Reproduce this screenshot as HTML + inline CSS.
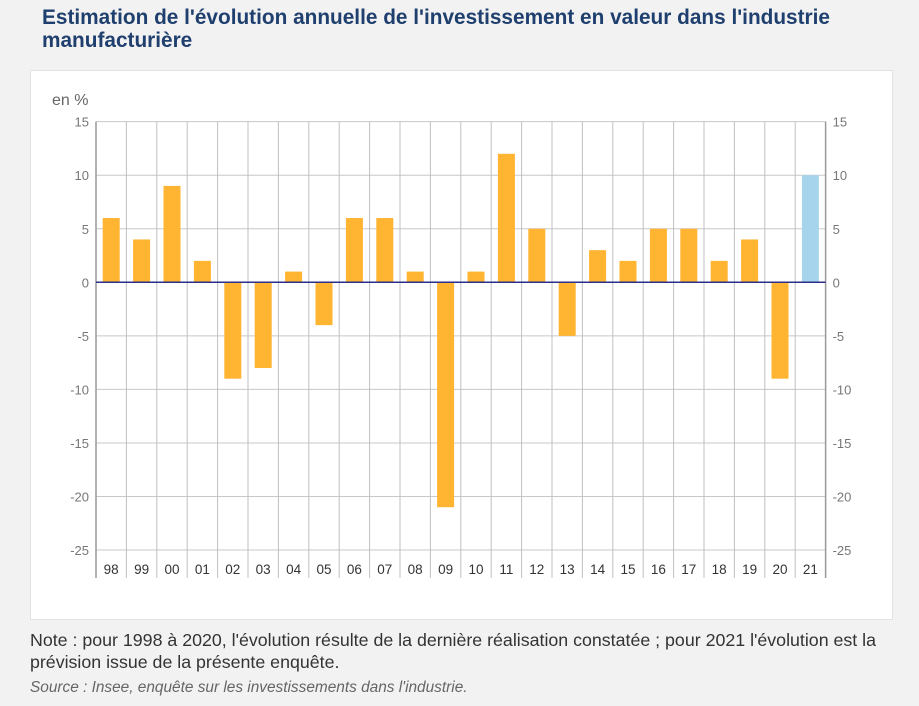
<!DOCTYPE html><html><head><meta charset="utf-8"><style>
body{margin:0;width:919px;height:706px;background:#f2f2f2;font-family:"Liberation Sans",sans-serif;overflow:hidden;position:relative}
.t{position:absolute;left:42px;top:6px;font-size:20.8px;font-weight:bold;color:#1f3f6e;line-height:23px}
.card{position:absolute;left:30px;top:70px;width:861px;height:548px;background:#fff;border:1px solid #e2e2e2}
.n{position:absolute;left:30px;top:629px;font-size:17.8px;color:#333;line-height:22px;white-space:nowrap}
.s{position:absolute;left:30px;top:679px;font-size:15.4px;font-style:italic;color:#666}
</style></head><body>
<div class="t">Estimation de l'évolution annuelle de l'investissement en valeur dans l'industrie<br>manufacturière</div>
<div class="card"></div>
<svg width="919" height="706" style="position:absolute;left:0;top:0" font-family="Liberation Sans,sans-serif">
<text x="52" y="105" font-size="16" fill="#666">en %</text>
<g id="g"></g>
</svg>
<div class="n">Note : pour 1998 à 2020, l'évolution résulte de la dernière réalisation constatée ; pour 2021 l'évolution est la<br>prévision issue de la présente enquête.</div>
<div class="s">Source : Insee, enquête sur les investissements dans l'industrie.</div>
<script>
const g=document.getElementById('g');let h='';
const L=96,R=825.6,W=(R-L)/24,y0=282.3,u=10.71;
const Y=v=>y0-v*u;
for(let v=15;v>=-25;v-=5){const y=Y(v);h+=`<line x1="${L}" x2="${R}" y1="${y}" y2="${y}" stroke="#c8c8c8"/>`;
h+=`<text x="${L-7}" y="${y+5}" font-size="13" fill="#777" text-anchor="end">${v}</text><text x="${R+7}" y="${y+5}" font-size="13" fill="#777">${v}</text>`;}
for(let i=0;i<=24;i++){const x=L+i*W;h+=`<line x1="${x}" x2="${x}" y1="${Y(15)}" y2="578" stroke="${i==0||i==24?'#999':'#c0c0c0'}" stroke-width="${i==0||i==24?1.5:1}"/>`;}
const vals=[6,4,9,2,-9,-8,1,-4,6,6,1,-21,1,12,5,-5,3,2,5,5,2,4,-9,10];
const labs=['98','99','00','01','02','03','04','05','06','07','08','09','10','11','12','13','14','15','16','17','18','19','20','21'];
vals.forEach((v,i)=>{const cx=L+(i+.5)*W;const a=Y(Math.max(v,0)),b=Y(Math.min(v,0));
h+=`<rect x="${cx-8.5}" y="${a}" width="17" height="${b-a}" fill="${i==23?'#a6d4ec':'#ffb432'}"/>`;
h+=`<text x="${cx}" y="574" font-size="13.5" fill="#333" text-anchor="middle">${labs[i]}</text>`;});
h+=`<line x1="${L}" x2="${R}" y1="${y0}" y2="${y0}" stroke="#2b2f8a" stroke-width="1.5"/>`;
g.innerHTML=h;
</script>
</body></html>
